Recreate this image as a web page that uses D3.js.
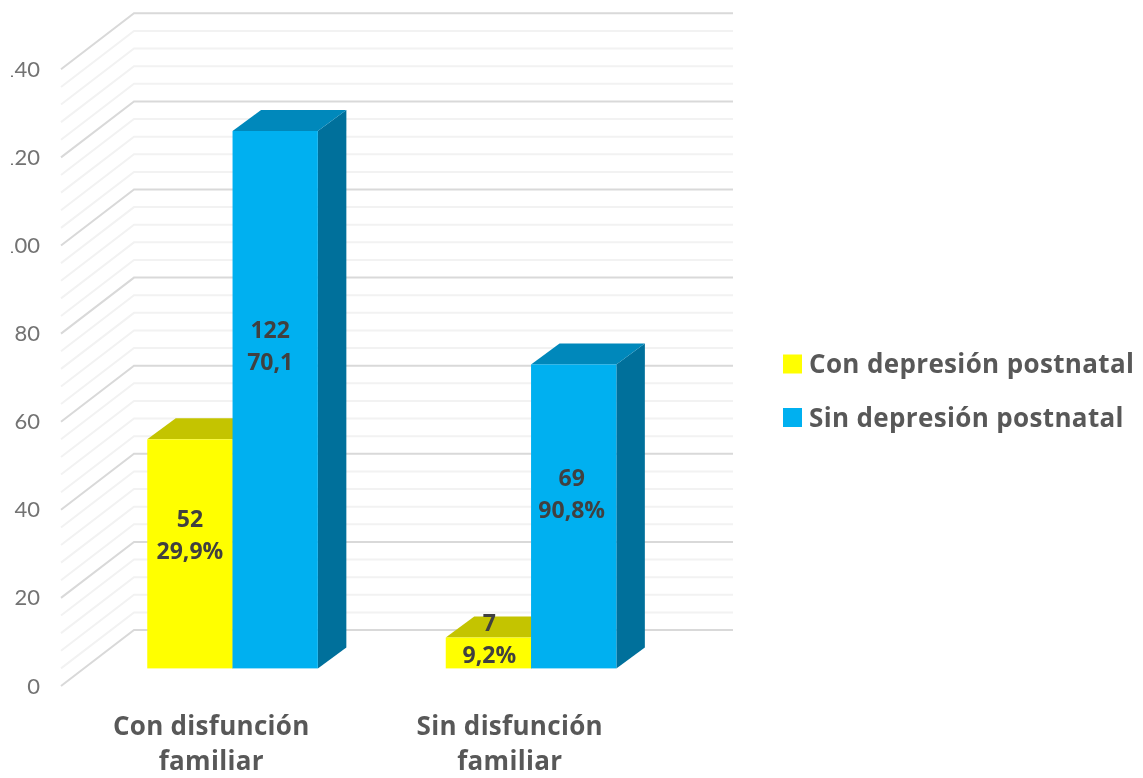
<!DOCTYPE html>
<html><head><meta charset="utf-8">
<script src="https://cdn.jsdelivr.net/npm/d3@7/dist/d3.min.js"></script>
<style>html,body{margin:0;padding:0;background:#fff}svg{display:block}text{font-family:"Open Sans",Lato,sans-serif}</style>
</head><body><div id="chart"></div>
<script>
const categories = ["Con disfunción familiar", "Sin disfunción familiar"];
const seriesNames = ["Con depresión postnatal", "Sin depresión postnatal"];
const conDepresion = [52, 7];
const sinDepresion = [122, 69];
const conLabels = ["29,9%", "9,2%"];
const sinLabels = ["70,1", "90,8%"];
const yTicks = [0, 20, 40, 60, 80, 100, 120, 140];
const minorTicks = d3.range(0, 141, 4);
// where the two-line value labels are centred: height in axis units, sideways nudge in px
const conLabelAt = [30.2, 6.6];
const sinLabelAt = [73.2, 39.5];
const conLabelNudge = [0, 1];
const sinLabelNudge = [-5, -2];

const W = 1143, H = 778;
const svg = d3.select("#chart").append("svg").attr("width", W).attr("height", H);
svg.append("defs").append("filter").attr("id", "soft").attr("x", 0).attr("y", 0).attr("width", 1).attr("height", 1)
  .attr("filterUnits", "objectBoundingBox")
  .append("feGaussianBlur").attr("stdDeviation", 0.45);
const root = svg.append("g").attr("filter", "url(#soft)");
root.append("rect").attr("width", W).attr("height", H).attr("fill", "#fff");

const frontBase = 686, unit = 4.405;
const y = d3.scaleLinear().domain([0, 140]).range([frontBase, frontBase - 140 * unit]);
const x0 = d3.scaleBand().domain(categories).range([61, 658]);
const wallDepth = {dx: 73, dy: -56}, barDepth = {dx: 28.5, dy: -21};
const barInset = {dx: 22.3, dy: -17.6};
const barW = 85.3;
const wallRight = 733;
const colors = {front: ["#FFFF00", "#00B0F0"], top: ["#C4C400", "#0088BB"], side: ["#9A9A00", "#006F9B"]};

// walls
const grid = root.append("g").attr("fill", "none");
minorTicks.forEach(t => {
  const major = t % 20 === 0;
  const yy = y(t);
  grid.append("path")
    .attr("d", `M${x0.range()[0]},${yy}L${x0.range()[0] + wallDepth.dx},${yy + wallDepth.dy}L${wallRight},${yy + wallDepth.dy}`)
    .attr("stroke", major ? "#D9D9D9" : "#F2F2F2")
    .attr("stroke-width", 2);
});

// bars
const series = [conDepresion, sinDepresion];
const barsG = root.append("g");
series.forEach((vals, s) => {
  vals.forEach((v, i) => {
    const cx = x0(categories[i]) + x0.bandwidth() / 2 + barInset.dx;
    const xl = cx + (s - 1) * barW, xr = xl + barW;
    const yb = y(0) + barInset.dy, yt = y(v) + barInset.dy;
    const g = barsG.append("g");
    g.append("path").attr("fill", colors.side[s])
      .attr("d", `M${xr},${yt}L${xr + barDepth.dx},${yt + barDepth.dy}L${xr + barDepth.dx},${yb + barDepth.dy}L${xr},${yb}Z`);
    g.append("path").attr("fill", colors.top[s])
      .attr("d", `M${xl},${yt}L${xl + barDepth.dx},${yt + barDepth.dy}L${xr + barDepth.dx},${yt + barDepth.dy}L${xr},${yt}Z`);
    g.append("rect").attr("x", xl).attr("y", yt).attr("width", barW).attr("height", yb - yt).attr("fill", colors.front[s]);
  });
});

// value labels
const labelG = root.append("g").attr("text-anchor", "middle").attr("font-weight", 700)
  .attr("font-size", 23).attr("fill", "#404040");
[[conDepresion, conLabels, conLabelAt, conLabelNudge], [sinDepresion, sinLabels, sinLabelAt, sinLabelNudge]].forEach(([vals, pct, at, nudge], s) => {
  vals.forEach((v, i) => {
    const cx = x0(categories[i]) + x0.bandwidth() / 2 + barInset.dx + (s - 0.5) * barW + nudge[i];
    const cy = y(at[i]) + barInset.dy;
    labelG.append("text").attr("x", cx).attr("y", cy - 16).attr("dy", "0.35em").text(v);
    labelG.append("text").attr("x", cx).attr("y", cy + 16).attr("dy", "0.35em").text(pct[i]);
  });
});

// y axis labels; the reference picture crops the left edge of the three-digit labels
svg.select("defs").append("clipPath").attr("id", "crop").append("rect")
  .attr("x", 11).attr("y", 0).attr("width", 60).attr("height", H);
const yAxis = root.append("g").attr("clip-path", "url(#crop)").append("g").attr("transform", "translate(40,0)")
  .call(d3.axisLeft(y).tickValues(yTicks).tickSize(0).tickPadding(0).tickFormat(d3.format("d")));
yAxis.select(".domain").remove();
yAxis.selectAll("text").attr("font-size", 22).attr("fill", "#737373").style("font-family", "Lato");

// category labels, wrapped after the second word
const catG = root.append("g").attr("text-anchor", "middle").attr("font-weight", 700)
  .attr("font-size", 26).attr("letter-spacing", 0.3).attr("fill", "#595959");
categories.forEach(c => {
  const words = c.split(" ");
  const cx = x0(c) + x0.bandwidth() / 2 + 1;
  catG.append("text").attr("x", cx).attr("y", 735).text(words.slice(0, 2).join(" "));
  catG.append("text").attr("x", cx).attr("y", 770).text(words[2]);
});

// legend
const legend = root.append("g");
seriesNames.forEach((n, i) => {
  const ly = 364 + i * 53.5;
  legend.append("rect").attr("x", 783).attr("y", ly - 9.5).attr("width", 19).attr("height", 19).attr("fill", colors.front[i]);
  legend.append("text").attr("x", 809).attr("y", ly).attr("dy", "0.35em").attr("font-size", 26)
    .attr("letter-spacing", 0.35).attr("font-weight", 700).attr("fill", "#595959").text(n);
});
</script></body></html>
